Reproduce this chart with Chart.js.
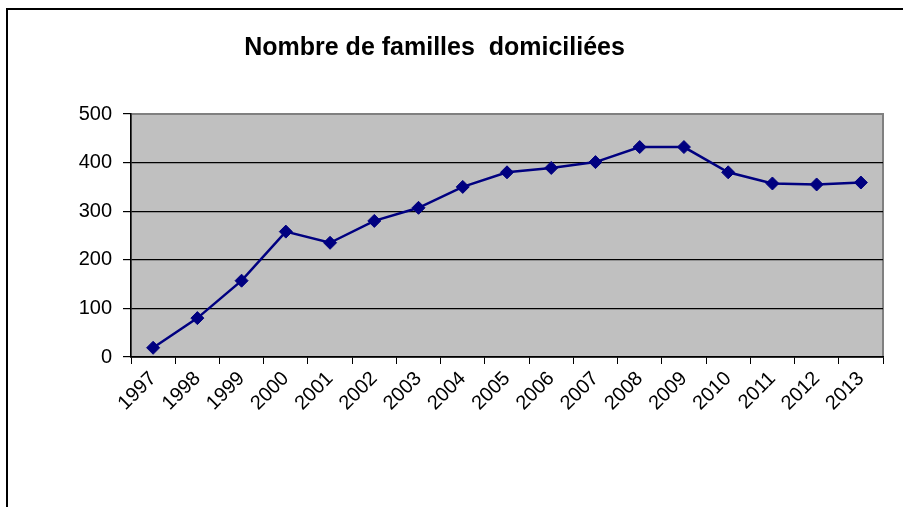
<!DOCTYPE html>
<html>
<head>
<meta charset="utf-8">
<script src="https://cdn.jsdelivr.net/npm/chart.js@4"></script>
<style>
  html, body { margin: 0; padding: 0; background: #fff; }
  #wrap { width: 903px; height: 507px; position: relative; }
</style>
</head>
<body>
<div id="wrap"><canvas id="graphique"></canvas></div>
<script>
// Données
const annees = ['1997', '1998', '1999', '2000', '2001', '2002', '2003', '2004', '2005',
  '2006', '2007', '2008', '2009', '2010', '2011', '2012', '2013'];
const familles = [19, 80, 157, 258, 235, 280, 307, 350, 380, 389, 401, 432, 432, 380, 357, 355, 359];
const graduationsY = [0, 100, 200, 300, 400, 500];
const titre = 'Nombre de familles  domiciliées  ';

// cadre + fond gris de la zone de tracé
const fondZone = {
  id: 'fondZone',
  beforeDraw(chart) {
    const ctx = chart.ctx;
    const a = chart.chartArea;
    ctx.save();
    ctx.strokeStyle = '#000';
    ctx.lineWidth = 2;
    ctx.beginPath();
    ctx.moveTo(7, 507);
    ctx.lineTo(7, 9);
    ctx.lineTo(903, 9);
    ctx.stroke();
    ctx.fillStyle = '#c0c0c0';
    ctx.fillRect(a.left, a.top, a.right - a.left, a.bottom - a.top);
    ctx.strokeStyle = '#808080';
    ctx.lineWidth = 2;
    ctx.strokeRect(a.left, a.top, a.right - a.left, a.bottom - a.top);
    ctx.restore();
  }
};

const ctx = document.getElementById('graphique').getContext('2d');
new Chart(ctx, {
  type: 'line',
  data: {
    labels: annees,
    datasets: [{
      data: familles,
      borderColor: '#000080',
      backgroundColor: '#000080',
      borderWidth: 2.5,
      pointStyle: 'rectRot',
      pointRadius: 6.5,
      pointBorderWidth: 1,
      tension: 0
    }]
  },
  options: {
    responsive: true,
    maintainAspectRatio: false,
    animation: false,
    layout: { padding: { left: 0, right: 20, top: 0, bottom: 0 } },
    plugins: {
      legend: { display: false },
      tooltip: { enabled: false },
      title: {
        display: true,
        text: titre,
        color: '#000',
        font: { family: 'Liberation Sans, Arial, sans-serif', size: 25, weight: 'bold', lineHeight: 1.2 },
        padding: { top: 33, bottom: 51 }
      }
    },
    scales: {
      x: {
        offset: true,
        grid: { offset: true, drawOnChartArea: false, color: '#000', tickLength: 7 },
        border: { color: '#000', width: 1.5 },
        ticks: {
          color: '#000',
          minRotation: 45,
          maxRotation: 45,
          padding: 3,
          font: { family: 'Liberation Sans, Arial, sans-serif', size: 20 }
        },
        afterFit(scale) { scale.height = 150; }
      },
      y: {
        min: 0,
        max: 500,
        afterBuildTicks(scale) { scale.ticks = graduationsY.map(v => ({ value: v })); },
        grid: {
          color: c => (c.tick && c.tick.value === 500 ? '#808080' : '#000'),
          tickColor: '#000',
          tickLength: 8,
          lineWidth: 1.2
        },
        border: { color: '#000', width: 1.5 },
        ticks: {
          color: '#000',
          padding: 11,
          font: { family: 'Liberation Sans, Arial, sans-serif', size: 20 }
        },
        afterFit(scale) { scale.width = 131; }
      }
    }
  },
  plugins: [fondZone]
});
</script>
</body>
</html>
